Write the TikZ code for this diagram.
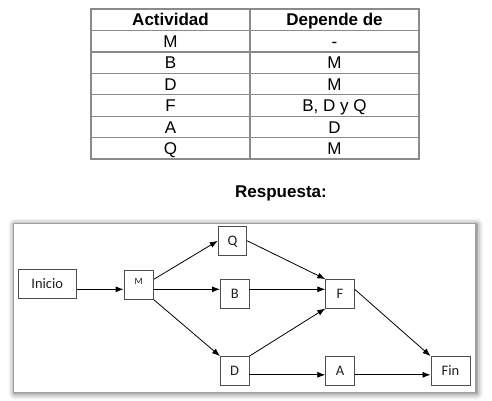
\documentclass[tikz,border=0pt]{standalone}
\usepackage{fontspec}
\setmainfont{Liberation Sans}
\newfontfamily\carlito{Carlito}
\usetikzlibrary{positioning, arrows.meta, shadows.blur}
\usepackage{xcolor}
\definecolor{tblgray}{HTML}{8A8A8A}
\definecolor{boxgray}{HTML}{4D4D4D}
\definecolor{framegray}{HTML}{A0A0A0}
\definecolor{txtdark}{HTML}{1F1F1F}

\begin{document}
\begin{tikzpicture}[x=1pt, y=-1pt,
    cell/.style={font=\fontsize{17}{17}\selectfont, text height=12.2pt, text depth=0pt, inner sep=0pt},
    hcell/.style={cell, font=\fontsize{17}{17}\selectfont\bfseries},
    box/.style={draw=boxgray, line width=0.9pt, minimum width=28.5pt, minimum height=28.5pt,
                inner sep=0pt, text=txtdark, font=\carlito\fontsize{14.5}{14.5}\selectfont,
                text height=9.3pt, text depth=0pt},
    arr/.style={-{Latex[length=8pt, width=6pt]}, line width=0.8pt, black}]
    \useasboundingbox (0,0) rectangle (492,400);
    \draw[tblgray, line width=1.2pt] (91,9) rectangle (419,159)
      (91,30.4) -- (419,30.4) (91,51.9) -- (419,51.9) (91,73.3) -- (419,73.3)
      (91,94.7) -- (419,94.7) (91,116.1) -- (419,116.1) (91,137.6) -- (419,137.6)
      (250,9) -- (250,159);
    \node[hcell] (hact) at (170.5,19.7) {Actividad};
    \node[hcell] (hdep) at (334.5,19.7) {Depende de};
    \node[cell] (act1) at (170.5,41.1) {M};
    \node[cell] (dep1) at (334.5,41.1) {-};
    \node[cell] (act2) at (170.5,62.6) {B};
    \node[cell] (dep2) at (334.5,62.6) {M};
    \node[cell] (act3) at (170.5,84) {D};
    \node[cell] (dep3) at (334.5,84) {M};
    \node[cell] (act4) at (170.5,105.4) {F};
    \node[cell] (dep4) at (334.5,105.4) {B, D y Q};
    \node[cell] (act5) at (170.5,126.9) {A};
    \node[cell] (dep5) at (334.5,126.9) {D};
    \node[cell] (act6) at (170.5,148.3) {Q};
    \node[cell] (dep6) at (334.5,148.3) {M};
    \node[hcell] (resp) at (281,191) {Respuesta:};

    \draw[framegray, line width=1.8pt, fill=white,
          blur shadow={shadow xshift=1pt, shadow yshift=-1pt, shadow blur radius=6pt, shadow opacity=65}]
      (13.5,223.5) rectangle (476,392.5);

    \node[box, minimum width=57.7pt, minimum height=29pt] (inicio) at (47.2,283.8) {Inicio};
    \node[box, minimum width=29.3pt] (m) at (138.7,285)
      {\raisebox{4.8pt}{\fontsize{9.5}{9.5}\selectfont M}};
    \node[box] (q) at (232.5,240.8) {Q};
    \node[box] (b) at (234.7,293.8) {B};
    \node[box] (d) at (234.7,370.8) {D};
    \node[box] (f) at (340,293.8) {F};
    \node[box] (a) at (340,370.8) {A};
    \node[box, minimum width=39pt] (fin) at (450.5,370.8) {Fin};

    \draw[arr] ([yshift=-5.5pt]inicio.east) -- ([yshift=-4.3pt]m.west);
    \draw[arr] ([yshift=5.7pt]m.east) -- (q.west);
    \draw[arr] ([yshift=-4.3pt]m.east) -- ([yshift=4.5pt]b.west);
    \draw[arr] (m.south east) -- (d.north west);
    \draw[arr] (q.east) -- (f.north west);
    \draw[arr] ([yshift=4.5pt]b.east) -- ([yshift=4.5pt]f.west);
    \draw[arr] (d.north east) -- (f.south west);
    \draw[arr] ([yshift=-4pt]d.east) -- ([yshift=-4pt]a.west);
    \draw[arr] ([yshift=4.5pt]f.east) -- (fin.north west);
    \draw[arr] ([yshift=-4pt]a.east) -- ([yshift=-4pt]fin.west);
  \end{tikzpicture}
\end{document}
